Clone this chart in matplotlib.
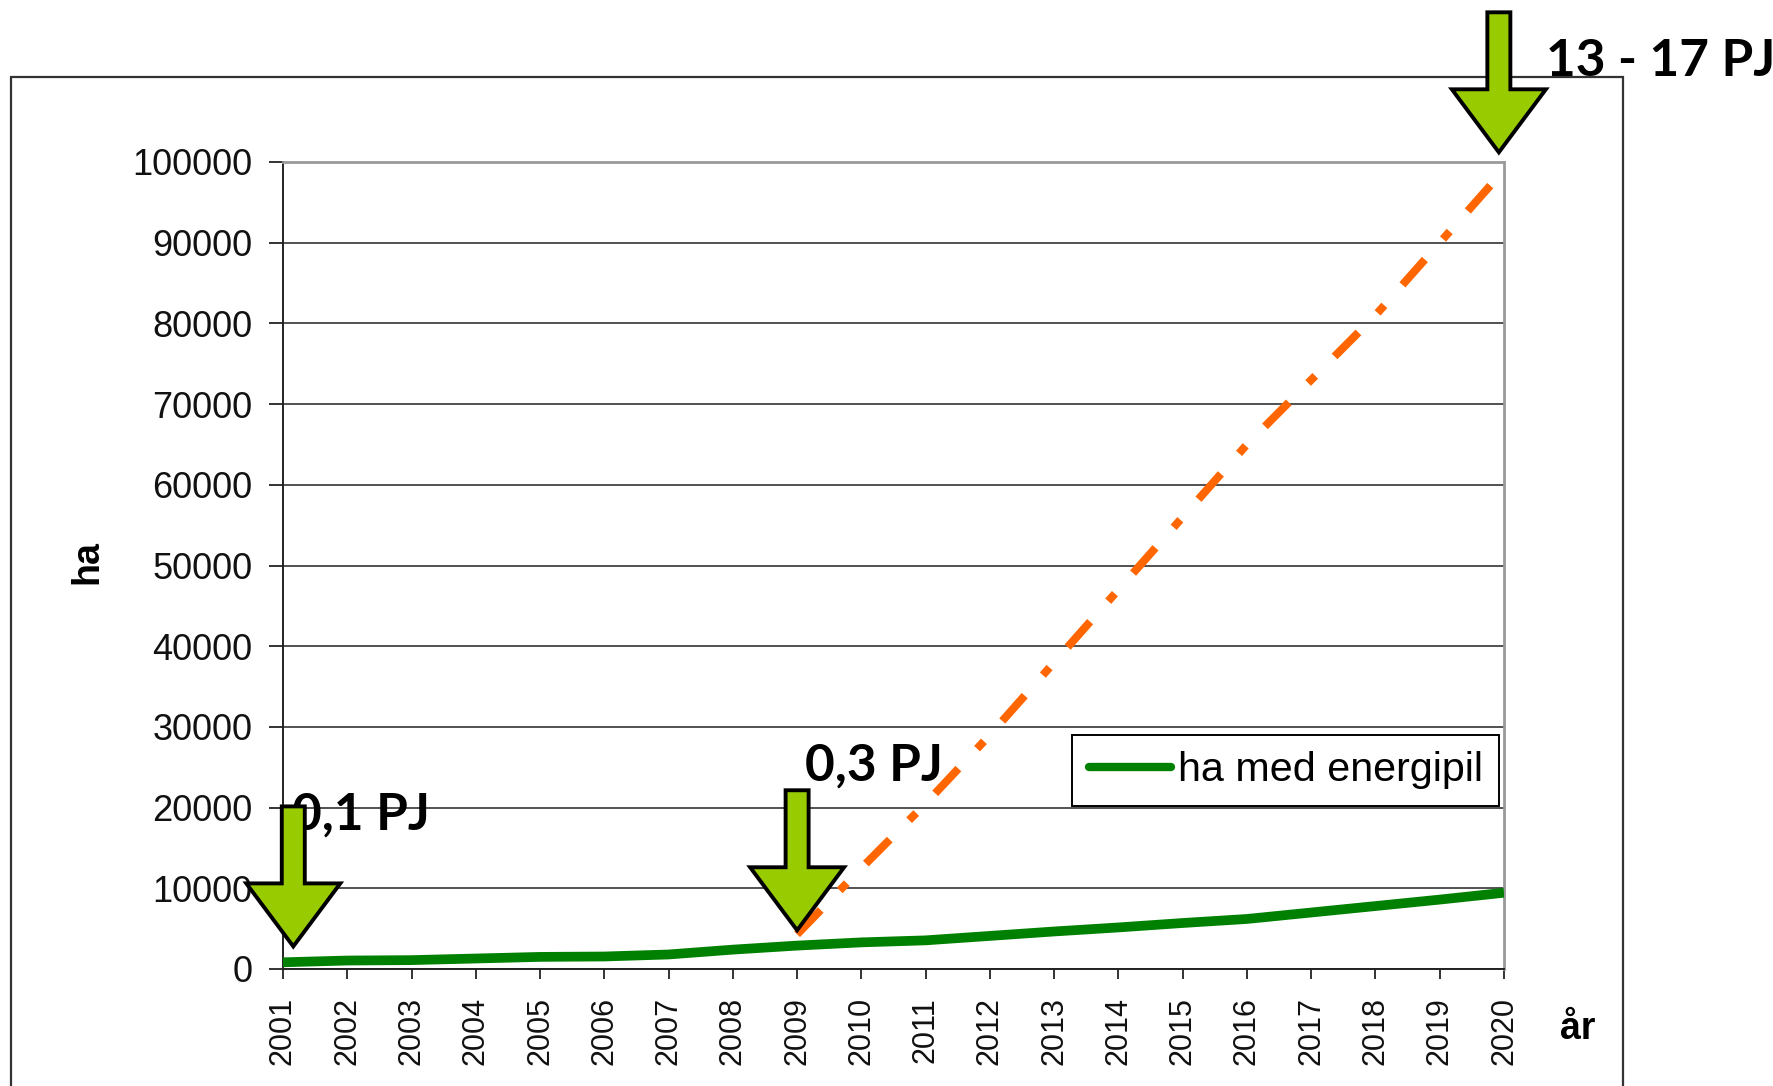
import matplotlib
matplotlib.use("Agg")
import matplotlib.pyplot as plt
from matplotlib.patches import Polygon, Rectangle
from matplotlib.transforms import IdentityTransform

# ---- data ----
years = list(range(2001, 2021))
ha_energipil = [830, 1050, 1100, 1300, 1500, 1550, 1800, 2400, 2900, 3300,
                3550, 4100, 4650, 5150, 5700, 6200, 7000, 7800, 8600, 9450]
target_years = list(range(2009, 2021))
target_ha = [4300, 12500, 20500, 29000, 38000, 47000, 56000, 65000,
             73000, 81000, 90000, 99000]
y_ticks = [0, 10000, 20000, 30000, 40000, 50000, 60000, 70000, 80000, 90000, 100000]
x_labels = [str(y) for y in years]
legend_label = "ha med energipil"
arrow_years = [2001.16, 2009.0, 2019.92]
arrow_values = [2800, 4800, 101200]
arrow_labels = ["0,1 PJ", "0,3 PJ", "13 - 17 PJ"]
label_years = [2001.14, 2009.12, 2020.65]
label_values = [19100, 25200, 112400]

W, H = 1773, 1086
fig = plt.figure(figsize=(W / 100, H / 100), dpi=100)
fig.patch.set_facecolor("white")

# outer chart-area border
fig.add_artist(Rectangle((11 / W, -0.1), (1623 - 11) / W, (H - 77) / H + 0.1,
                         transform=fig.transFigure, fill=False,
                         edgecolor="#333333", lw=1.6, zorder=1))

L, R, T, B = 283, 1504, 162, 969
ax = fig.add_axes([L / W, (H - B) / H, (R - L) / W, (B - T) / H])
ax.set_xlim(2001, 2020)
ax.set_ylim(0, 100000)

ax.plot(years, ha_energipil, color="#008000", lw=7.0, solid_capstyle="butt",
        label=legend_label, zorder=3)
ax.plot(target_years, target_ha, color="#FF6600", lw=5.8, zorder=3,
        dashes=[4.2, 3.4, 1.25, 3.4], clip_on=False)

ax.set_yticks(y_ticks)
ax.set_yticklabels([str(v) for v in y_ticks])
ax.set_xticks(years)
ax.set_xticklabels(x_labels, rotation=90)
ax.grid(axis="y", color="#222222", lw=1.1)
ax.set_axisbelow(True)

tick_font = "Liberation Sans"
for lab in ax.get_yticklabels():
    lab.set_fontfamily(tick_font)
    lab.set_fontsize(26)
for lab in ax.get_xticklabels():
    lab.set_fontfamily(tick_font)
    lab.set_fontsize(22)
ax.tick_params(axis="y", direction="out", length=10, width=1.2, pad=12, colors="#111111")
ax.tick_params(axis="x", direction="out", length=7, width=1.2, pad=13, colors="#111111")

for s in ["left", "bottom"]:
    ax.spines[s].set_color("#222222")
    ax.spines[s].set_linewidth(1.4)
for s in ["top", "right"]:
    ax.spines[s].set_color("#999999")
    ax.spines[s].set_linewidth(2)

ax.set_ylabel("ha", fontfamily=tick_font, fontweight="bold", fontsize=27)
ax.yaxis.label.set_va("center")
ax.yaxis.set_label_coords(-0.1605, 0.504)
ax.set_xlabel("år", fontfamily=tick_font, fontweight="bold", fontsize=27)
ax.xaxis.label.set_va("center")
ax.xaxis.set_label_coords(1.06, -0.074)

leg = ax.legend(loc="upper right", bbox_to_anchor=(0.996, 0.29),
                prop={"family": tick_font, "size": 29.7}, fancybox=False,
                edgecolor="black", framealpha=1, handlelength=2.0,
                handletextpad=0.15, borderpad=0.4, borderaxespad=0)
leg.get_frame().set_linewidth(1.4)
leg.get_lines()[0].set_solid_capstyle("round")
leg.get_lines()[0].set_linewidth(6)

# ---- block arrows (shape in pixels, tip anchored in data coords) ----
fig.canvas.draw()
shaft_hw, head_hw, head_h, total_h = 11.5, 47, 63, 140
for yr, val in zip(arrow_years, arrow_values):
    tx, ty = ax.transData.transform((yr, val))
    verts = [(tx, ty), (tx - head_hw, ty + head_h), (tx - shaft_hw, ty + head_h),
             (tx - shaft_hw, ty + total_h), (tx + shaft_hw, ty + total_h),
             (tx + shaft_hw, ty + head_h), (tx + head_hw, ty + head_h)]
    fig.add_artist(Polygon(verts, closed=True, transform=IdentityTransform(),
                           facecolor="#99CC00", edgecolor="black", lw=2.8,
                           joinstyle="miter", zorder=5))

for txt, yr, val in zip(arrow_labels, label_years, label_values):
    ax.text(yr, val, txt, fontfamily="Lato", fontweight="bold", fontsize=37,
            ha="left", va="center", clip_on=False, zorder=10)

fig.savefig("out.png", dpi=100)
